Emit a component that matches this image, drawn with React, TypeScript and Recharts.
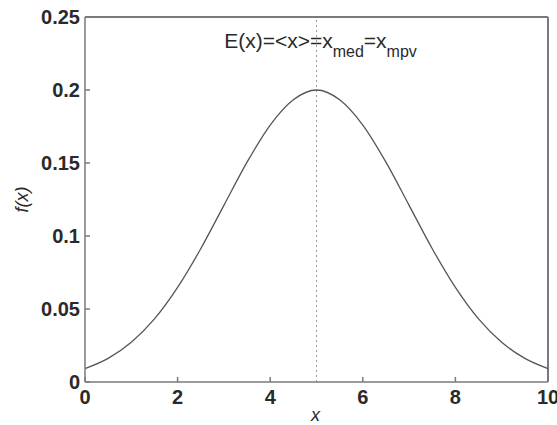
import React from 'react';
import { LineChart, Line, XAxis, YAxis, ReferenceLine } from 'recharts';

const xValues = [0, 0.5, 1, 1.5, 2, 2.5, 3, 3.5, 4, 4.5, 5, 5.5, 6, 6.5, 7, 7.5, 8, 8.5, 9, 9.5, 10];
const fValues = [0.0092, 0.0162, 0.0272, 0.0432, 0.0648, 0.0913, 0.121, 0.1506, 0.176, 0.1933, 0.2, 0.1933, 0.176, 0.1506, 0.121, 0.0913, 0.0648, 0.0432, 0.0272, 0.0162, 0.0092];
const xTicks = [0, 2, 4, 6, 8, 10];
const yTicks = [0, 0.05, 0.1, 0.15, 0.2, 0.25];
const yTickLabels = ['0', '0.05', '0.1', '0.15', '0.2', '0.25'];
const meanX = 5;

const data = xValues.map((x, i) => ({ x, f: fValues[i] }));

const X_MIN = 0;
const X_MAX = 10;
const Y_MIN = 0;
const Y_MAX = 0.25;

const FONT = '"Liberation Sans", Arial, Helvetica, sans-serif';
const AXIS_COLOR = '#7a7a7a';

const tickStyle = { fontFamily: FONT, fontSize: 20, fontWeight: 700, fill: '#2a2a2a' };

export default function App() {
  return (
    <div style={{ position: 'absolute', left: 0, top: 0, width: 557, height: 425, background: '#fff' }}>
      <LineChart width={557} height={425} data={data} margin={{ top: 17, right: 9, bottom: 0, left: 0 }}>
        <XAxis
          dataKey="x"
          type="number"
          domain={[X_MIN, X_MAX]}
          ticks={xTicks}
          interval={0}
          height={43}
          stroke={AXIS_COLOR}
          strokeWidth={1.5}
          tickSize={-5}
          tickMargin={13}
          tick={tickStyle}
          label={(props: any) => {
            const vb = props.viewBox || {};
            return (
              <text x={vb.x + vb.width / 2 - 1} y={421} textAnchor="middle" fontFamily={FONT} fontSize={18} fontStyle="italic" fill="#2a2a2a">
                x
              </text>
            );
          }}
        />
        <YAxis
          type="number"
          domain={[Y_MIN, Y_MAX]}
          ticks={yTicks}
          interval={0}
          width={85}
          stroke={AXIS_COLOR}
          strokeWidth={1.5}
          tickSize={-5}
          tickMargin={10}
          tick={tickStyle}
          tickFormatter={(v: number) => yTickLabels[yTicks.indexOf(v)] ?? String(v)}
          label={(props: any) => {
            const vb = props.viewBox || {};
            const cy = vb.y + vb.height / 2;
            return (
              <text x={22} y={cy} transform={`rotate(-90, 22, ${cy})`} textAnchor="middle" dominantBaseline="central" fontFamily={FONT} fontSize={18} fontStyle="italic" fill="#2a2a2a">
                f(x)
              </text>
            );
          }}
        />
        <ReferenceLine y={Y_MAX} stroke={AXIS_COLOR} strokeWidth={2} ifOverflow="visible" />
        <ReferenceLine x={X_MAX} stroke={AXIS_COLOR} strokeWidth={2} ifOverflow="visible" />
        <ReferenceLine
          x={meanX}
          stroke="#999"
          strokeWidth={1}
          strokeDasharray="2 3"
          label={(props: any) => {
            const vb = props.viewBox || {};
            const x0 = vb.x + 4;
            const y0 = vb.y + 31;
            return (
              <text x={x0} y={y0} textAnchor="middle" fontFamily={FONT} fontSize={21} fill="#2a2a2a">
                <tspan>E(x)=&lt;x&gt;=x</tspan>
                <tspan fontSize={16} dy={9}>med</tspan>
                <tspan dy={-9}>=x</tspan>
                <tspan fontSize={16} dy={9}>mpv</tspan>
              </text>
            );
          }}
        />
        <Line
          dataKey="f"
          type="monotone"
          stroke="#555"
          strokeWidth={1.3}
          dot={false}
          isAnimationActive={false}
        />
      </LineChart>
    </div>
  );
}
